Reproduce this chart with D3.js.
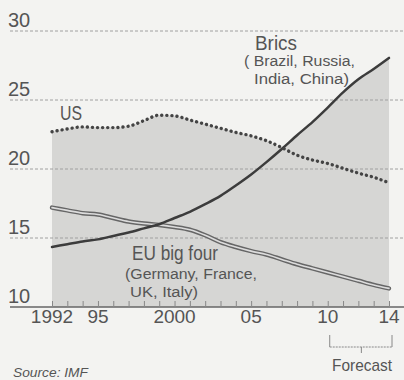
<!DOCTYPE html>
<html><head><meta charset="utf-8">
<script src="https://cdn.jsdelivr.net/npm/d3@7"></script>
<style>
html,body{margin:0;padding:0;background:#f3f3f1;}
svg{display:block;}
text{font-family:"Liberation Sans",Arial,sans-serif;fill:#555;}
</style></head>
<body><svg id="c" width="404" height="380"></svg>
<script>
const years = d3.range(1992, 2015);
const usValues = [22.7,22.9,23.05,23.0,23.0,23.1,23.5,23.9,23.85,23.55,23.25,22.95,22.65,22.4,22.05,21.55,21.0,20.65,20.4,20.05,19.7,19.4,19.0];
const bricsValues = [14.35,14.55,14.75,14.9,15.15,15.4,15.7,16.0,16.45,16.9,17.45,18.05,18.8,19.6,20.5,21.45,22.45,23.4,24.45,25.55,26.5,27.25,28.05];
const euValues = [17.2,17.0,16.8,16.7,16.45,16.2,16.05,15.95,15.8,15.6,15.2,14.7,14.35,14.05,13.8,13.45,13.1,12.8,12.5,12.2,11.9,11.6,11.35];
const yTicks = [10,15,20,25,30];
const xTickLabels = [[1992,"1992"],[1995,"95"],[2000,"2000"],[2005,"05"],[2010,"10"],[2014,"14"]];

const svg = d3.select("#c");
const x = d3.scaleLinear().domain([1992,2014]).range([52,389]);
const y = d3.scaleLinear().domain([10,30]).range([307,31]);
const curve = d3.curveMonotoneX;

const rows = years.map((yr,i)=>({yr, us:usValues[i], br:bricsValues[i], eu:euValues[i]}));

// shaded area under the top series
svg.append("path")
  .datum(rows)
  .attr("d", d3.area().curve(curve).x(d=>x(d.yr)).y0(y(10)).y1(d=>y(Math.max(d.us,d.br,d.eu))))
  .attr("fill","#d6d6d4");

// gridlines
svg.append("g").selectAll("line").data(yTicks.filter(t=>t>10)).join("line")
  .attr("x1",10).attr("x2",404).attr("y1",d=>y(d)).attr("y2",d=>y(d))
  .attr("stroke","#a0a0a0").attr("stroke-width",1).attr("stroke-dasharray","3,2");

// y labels
svg.append("g").selectAll("text").data(yTicks).join("text")
  .attr("x",8).attr("y",d=>y(d)-4).text(d=>d)
  .attr("font-size",20).attr("fill","#666");

// x axis
svg.append("line").attr("x1",10).attr("x2",404).attr("y1",y(10)).attr("y2",y(10))
  .attr("stroke","#666").attr("stroke-width",1.5);
const xAxis = d3.axisBottom(x).tickValues(years).tickSize(-6).tickFormat("");
const ax = svg.append("g").attr("transform",`translate(0,${y(10)})`).call(xAxis);
ax.select(".domain").remove();
ax.selectAll(".tick line").attr("stroke","#888").attr("stroke-width",1);
svg.append("g").selectAll("text").data(xTickLabels).join("text")
  .attr("x",d=>x(d[0])).attr("y",323).attr("text-anchor","middle")
  .attr("font-size",19).attr("fill","#555").text(d=>d[1]);

const line = key => d3.line().curve(curve).x(d=>x(d.yr)).y(d=>y(d[key]));

// EU double line
svg.append("path").datum(rows).attr("d",line("eu")).attr("fill","none")
  .attr("stroke","#666").attr("stroke-width",4.5).attr("stroke-linecap","round");
svg.append("path").datum(rows).attr("d",line("eu")).attr("fill","none")
  .attr("stroke","#dcdcdc").attr("stroke-width",1.6).attr("stroke-linecap","round");

// Brics solid
svg.append("path").datum(rows).attr("d",line("br")).attr("fill","none")
  .attr("stroke","#3c3c3c").attr("stroke-width",2.5).attr("stroke-linecap","round");

// US dotted
svg.append("path").datum(rows).attr("d",line("us")).attr("fill","none")
  .attr("stroke","#444").attr("stroke-width",3.4).attr("stroke-linecap","round")
  .attr("stroke-dasharray","0.1,5");

// labels
function label(txt, tx, ty, size, len, fill){
  const t = svg.append("text").attr("x",tx).attr("y",ty).attr("font-size",size).attr("fill",fill||"#555").text(txt);
  if(len){ t.attr("textLength",len).attr("lengthAdjust","spacingAndGlyphs"); }
  return t;
}
label("US", 60, 120, 20, 22);
label("Brics", 255, 50, 20, 42);
label("( Brazil, Russia,", 244, 66, 15.5, 111, "#666");
label("India, China)", 254, 84, 15.5, 95, "#666");
label("EU big four", 132, 260, 20, 86);
label("(Germany, France,", 125, 279, 15.5, 132, "#666");
label("UK, Italy)", 130, 297, 15.5, 68, "#666");

// source
svg.append("text").attr("x",13).attr("y",377).attr("font-size",12).attr("font-style","italic").attr("fill","#666")
  .attr("textLength",75).attr("lengthAdjust","spacingAndGlyphs").text("Source: IMF");

// forecast bracket
const fb = svg.append("g").attr("stroke","#888").attr("stroke-width",1).attr("fill","none");
fb.append("line").attr("x1",x(2010)+2).attr("x2",x(2014)+3).attr("y1",347).attr("y2",347).attr("stroke-dasharray","2,1");
fb.append("line").attr("x1",x(2010)+2).attr("x2",x(2010)+2).attr("y1",335).attr("y2",347);
fb.append("line").attr("x1",x(2014)+3).attr("x2",x(2014)+3).attr("y1",335).attr("y2",347);
fb.append("line").attr("x1",(x(2010)+x(2014))/2+3).attr("x2",(x(2010)+x(2014))/2+3).attr("y1",347).attr("y2",353);
label("Forecast", 332, 371, 17, 60);
</script></body></html>
